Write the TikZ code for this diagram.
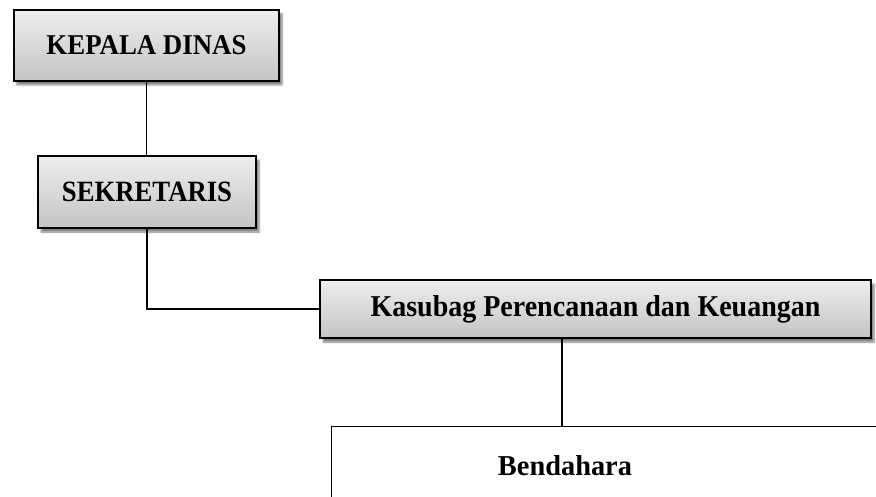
\documentclass[tikz,border=0pt]{standalone}
\usepackage{graphicx}
\usepackage{fontspec}
\setmainfont{Liberation Serif}
\usetikzlibrary{shadows.blur}
\definecolor{boxtop}{RGB}{238,238,238}
\definecolor{boxbot}{RGB}{196,196,196}
\newcommand{\fitwh}[3]{\resizebox{#1}{#2}{\fontsize{28}{32}\selectfont\bfseries #3}}
\tikzset{
  orgbox/.style={draw=black, line width=1.9pt, rectangle, inner sep=0pt,
    top color=boxtop, bottom color=boxbot,
    blur shadow={shadow xshift=3pt, shadow yshift=-4pt, shadow blur steps=6, shadow opacity=50}},
  plainbox/.style={draw=black, line width=1.3pt, rectangle, inner sep=0pt, fill=white},
  conn/.style={line width=1.9pt, black}
}
\begin{document}
\begin{tikzpicture}[x=1pt,y=1pt]
\useasboundingbox (0,0) rectangle (876,-497);
\node[orgbox, minimum width=265pt, minimum height=71pt] (kepala) at (146.5,-45.5) {\fitwh{200pt}{19pt}{KEPALA DINAS}};
\node[orgbox, minimum width=218pt, minimum height=72pt] (sekretaris) at (147,-192) {\fitwh{170pt}{19.5pt}{SEKRETARIS}};
\node[orgbox, minimum width=551pt, minimum height=58pt] (kasubag) at (595.5,-309) {\fitwh{450pt}{21pt}{Kasubag Perencanaan dan Keuangan}};
\node[plainbox, minimum width=560pt, minimum height=100pt, anchor=north west] (bendbox) at (331,-426) {};
\node[inner sep=0pt] (bendahara) at (565,-466) {\fitwh{134pt}{20pt}{Bendahara}};
\coordinate (ktop) at (562,-339);
\draw[conn] (kepala.south) -- (kepala.south |- sekretaris.north);
\draw[conn] (sekretaris.south) |- (kasubag.west);
\draw[conn] (ktop) -- (ktop |- bendbox.north);
\end{tikzpicture}
\end{document}
